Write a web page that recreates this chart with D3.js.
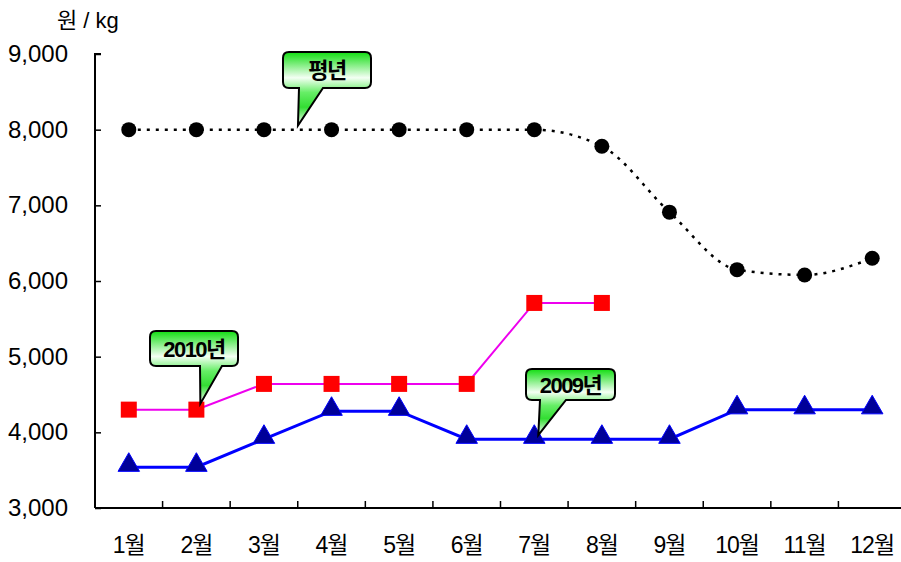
<!DOCTYPE html>
<html>
<head>
<meta charset="utf-8">
<script src="https://cdn.jsdelivr.net/npm/d3@7"></script>
<style>
  body { margin: 0; background: #fff; }
  svg text { font-family: "Liberation Sans", Arial, "Noto Sans CJK KR", sans-serif; }
</style>
</head>
<body>
<div id="canvas"></div>
<script>
const months = ["1월", "2월", "3월", "4월", "5월", "6월", "7월", "8월", "9월", "10월", "11월", "12월"];
const normalYear = [8000, 8000, 8000, 8000, 8000, 8000, 8000, 7780, 6910, 6150, 6080, 6300];
const year2010 = [4300, 4300, 4640, 4640, 4640, 4640, 5710, 5710];
const year2009 = [3540, 3540, 3910, 4280, 4280, 3910, 3910, 3910, 3910, 4300, 4300, 4300];
const yTicks = [3000, 4000, 5000, 6000, 7000, 8000, 9000];

const width = 901, height = 562;
const margin = { top: 54, left: 95, bottom: 54, right: -5 };

const svg = d3.select("#canvas").append("svg")
    .attr("width", width).attr("height", height);

const x = d3.scaleBand()
    .domain(months)
    .range([margin.left, width - margin.right]);

const y = d3.scaleLinear()
    .domain([3000, 9000])
    .range([height - margin.bottom, margin.top]);

const cx = (i) => x(months[i]) + x.bandwidth() / 2;

// gradient for callouts
const defs = svg.append("defs");
const grad = defs.append("linearGradient").attr("id", "calloutGrad")
    .attr("x1", 0).attr("y1", 0).attr("x2", 0).attr("y2", 1);
grad.append("stop").attr("offset", "0%").attr("stop-color", "#11dd11");
grad.append("stop").attr("offset", "35%").attr("stop-color", "#f4fff4");
grad.append("stop").attr("offset", "55%").attr("stop-color", "#66ee66");
grad.append("stop").attr("offset", "75%").attr("stop-color", "#33dd33");
grad.append("stop").attr("offset", "100%").attr("stop-color", "#ffffff");

// axes
const yAxis = svg.append("g")
    .attr("transform", `translate(${margin.left},0)`)
    .call(d3.axisRight(y).tickValues(yTicks).tickSize(6).tickFormat(() => ""));
yAxis.select(".domain").attr("d", `M6,${y(9000)}H0V${y(3000)}`).attr("stroke-width", 2);
yAxis.selectAll(".tick line").attr("stroke-width", 1.5);

svg.append("g").selectAll("text").data(yTicks).join("text")
    .attr("x", 68).attr("y", d => y(d) + 8)
    .attr("text-anchor", "end")
    .attr("font-size", 24)
    .text(d3.format(","));

const xAxis = svg.append("g")
    .attr("transform", `translate(0,${y(3000)})`);
xAxis.append("line")
    .attr("x1", margin.left).attr("x2", width)
    .attr("stroke", "#000").attr("stroke-width", 2);
xAxis.selectAll("line.tk").data(months.slice(1)).join("line")
    .attr("class", "tk")
    .attr("x1", d => x(d)).attr("x2", d => x(d))
    .attr("y1", 0).attr("y2", -7)
    .attr("stroke", "#000").attr("stroke-width", 1.5);
xAxis.selectAll("text").data(months).join("text")
    .attr("x", d => x(d) + x.bandwidth() / 2)
    .attr("y", 45)
    .attr("text-anchor", "middle")
    .attr("font-size", 23)
    .attr("letter-spacing", -1)
    .text(d => d);

svg.append("text")
    .attr("x", 57).attr("y", 28)
    .attr("font-size", 22)
    .text("원 / kg");

const line = d3.line().x((d, i) => cx(i)).y(d => y(d));

// 평년
svg.append("path").datum(normalYear)
    .attr("d", line.curve(d3.curveMonotoneX))
    .attr("fill", "none").attr("stroke", "#000")
    .attr("stroke-width", 2.5).attr("stroke-dasharray", "3,6");
svg.selectAll("circle.n").data(normalYear).join("circle")
    .attr("class", "n")
    .attr("cx", (d, i) => cx(i)).attr("cy", d => y(d)).attr("r", 7.5)
    .attr("fill", "#000");

// 2010
const lineLin = d3.line().x((d, i) => cx(i)).y(d => y(d));
svg.append("path").datum(year2010)
    .attr("d", lineLin)
    .attr("fill", "none").attr("stroke", "#ee00ee").attr("stroke-width", 2);
svg.selectAll("rect.s").data(year2010).join("rect")
    .attr("class", "s")
    .attr("x", (d, i) => cx(i) - 8).attr("y", d => y(d) - 8)
    .attr("width", 16).attr("height", 16)
    .attr("fill", "#ff0000");

// 2009
svg.append("path").datum(year2009)
    .attr("d", lineLin)
    .attr("fill", "none").attr("stroke", "#0000ff").attr("stroke-width", 3);
svg.selectAll("path.t").data(year2009).join("path")
    .attr("class", "t")
    .attr("d", d3.symbol().type(d3.symbolTriangle).size(200))
    .attr("transform", (d, i) => `translate(${cx(i)},${y(d) - 2})`)
    .attr("fill", "#000099").attr("stroke", "#0000ff").attr("stroke-width", 1);

// callouts
function callout(label, bx, by, bw, bh, px, py, tipL, tipR) {
  const r = 6;
  const g = svg.append("g");
  const p = d3.path();
  p.moveTo(bx + r, by);
  p.lineTo(bx + bw - r, by);
  p.quadraticCurveTo(bx + bw, by, bx + bw, by + r);
  p.lineTo(bx + bw, by + bh - r);
  p.quadraticCurveTo(bx + bw, by + bh, bx + bw - r, by + bh);
  p.lineTo(bx + tipR, by + bh);
  p.lineTo(px, py);
  p.lineTo(bx + tipL, by + bh);
  p.lineTo(bx + r, by + bh);
  p.quadraticCurveTo(bx, by + bh, bx, by + bh - r);
  p.lineTo(bx, by + r);
  p.quadraticCurveTo(bx, by, bx + r, by);
  p.closePath();
  g.append("path").attr("d", p.toString())
    .attr("fill", "url(#calloutGrad)")
    .attr("stroke", "#000").attr("stroke-width", 2);
  g.append("text")
    .attr("x", bx + bw / 2).attr("y", by + bh / 2 + 8)
    .attr("text-anchor", "middle")
    .attr("font-size", 22).attr("font-weight", "bold")
    .attr("letter-spacing", -1.5)
    .text(label);
}

callout("평년", 283, 52, 88, 36, cx(2) + 34, y(normalYear[2]) - 4, 16, 40);
callout("2010년", 150, 331, 88, 35, cx(1) + 4, y(year2010[1]) - 6, 50, 72);
callout("2009년", 526, 369, 89, 31, cx(6) + 4, y(year2009[6]) - 4, 14, 40);
</script>
</body>
</html>
